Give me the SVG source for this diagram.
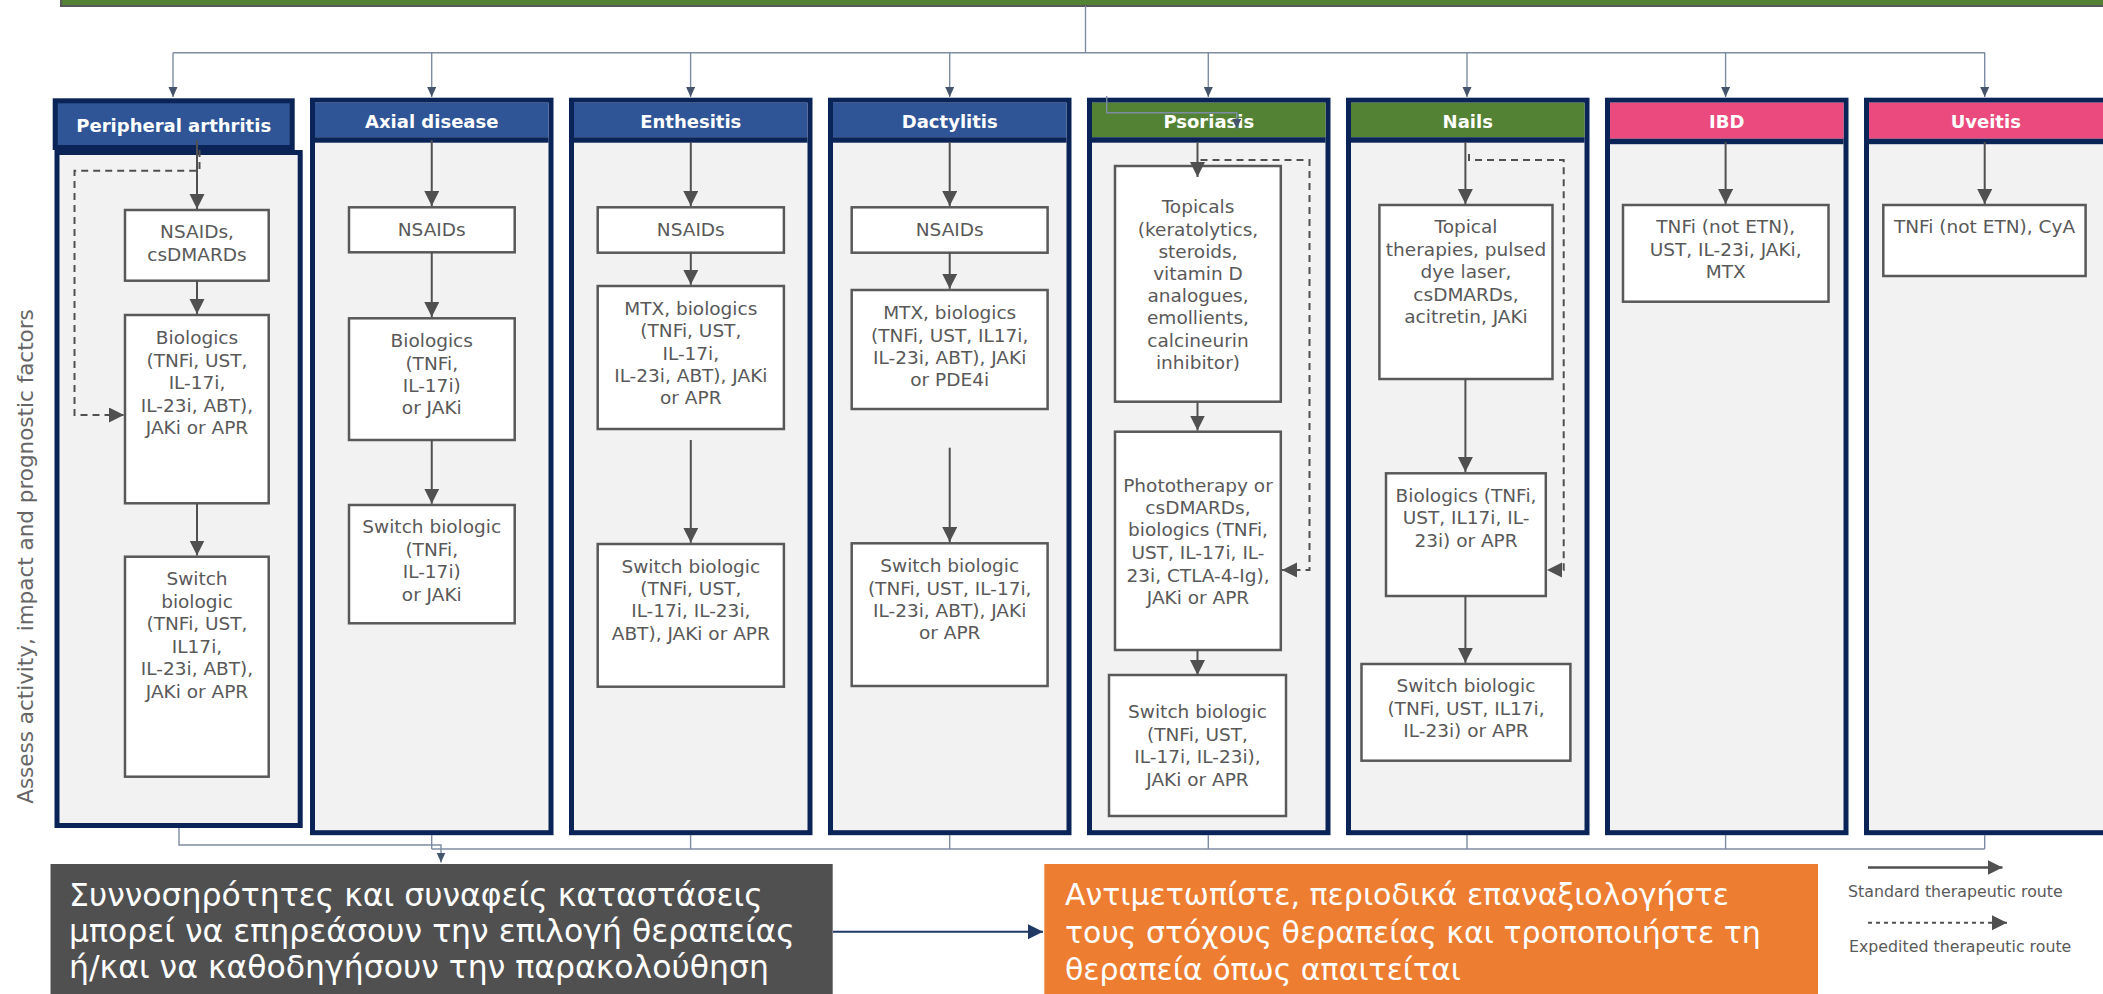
<svg xmlns="http://www.w3.org/2000/svg" width="2103" height="994" viewBox="0 0 2103 994">
<style>
.col{fill:#f2f2f2;stroke:#0a2458;stroke-width:5}
.hb{fill:#2f5597}.hg{fill:#548235}.hp{fill:#ea4a7d}
.band{fill:#0a2458}
.ht{font-family:"DejaVu Sans",Verdana,sans-serif;font-weight:bold;font-size:18px;fill:#ffffff;text-anchor:middle}
.box{fill:#ffffff;stroke:#595959;stroke-width:2.5}
.bt{font-family:"DejaVu Sans",Verdana,sans-serif;font-size:18.5px;fill:#595959;text-anchor:middle}
.arr{stroke:#505050;stroke-width:2;fill:none;marker-end:url(#ah)}
.dash{stroke:#505050;stroke-width:2;fill:none;stroke-dasharray:7 5;marker-end:url(#ah)}
.dist{stroke:#7d8ca3;stroke-width:1.4;fill:none}
.darr{stroke:#7d8ca3;stroke-width:1.4;fill:none;marker-end:url(#sm)}
.gr{font-family:"DejaVu Sans",Verdana,sans-serif;font-size:30px;fill:#ffffff}
.gr2{font-family:"DejaVu Sans",Verdana,sans-serif;font-size:31.5px;fill:#ffffff}
.lg{font-family:"DejaVu Sans",Verdana,sans-serif;font-size:15.8px;fill:#595959}
</style>
<defs>
<marker id="ah" markerUnits="userSpaceOnUse" markerWidth="16" markerHeight="16" refX="15" refY="7.5" orient="auto" viewBox="0 0 16 16"><path d="M0,0 L15,7.5 L0,15 z" fill="#505050"/></marker>
<marker id="sm" markerUnits="userSpaceOnUse" markerWidth="11" markerHeight="10" refX="10" refY="4.5" orient="auto" viewBox="0 0 11 10"><path d="M0,0 L10,4.5 L0,9 z" fill="#44546a"/></marker>
<marker id="nv" markerUnits="userSpaceOnUse" markerWidth="16" markerHeight="16" refX="15" refY="7.5" orient="auto" viewBox="0 0 16 16"><path d="M0,0 L15,7.5 L0,15 z" fill="#1f3864"/></marker>
</defs>

<g id="top-bar">
<rect x="61" y="-30" width="2100" height="36" fill="#548235" stroke="#595959" stroke-width="2"/>
</g>

<text transform="translate(33,556.5) rotate(-90)" text-anchor="middle" font-family="DejaVu Sans, Verdana, sans-serif" font-size="21.5" fill="#666666">Assess activity, impact and prognostic factors</text>

<g id="col-peripheral">
<rect x="57" y="152.5" width="243.2" height="673" class="col"/>
<rect x="55.2" y="100.8" width="237" height="46.7" fill="#2f5597" stroke="#0a2458" stroke-width="5"/>
<text x="173.7" y="131.7" class="ht">Peripheral arthritis</text>
<rect x="125" y="210" width="143.7" height="70.7" class="box"/>
<text class="bt"><tspan x="197" y="238">NSAIDs,</tspan><tspan x="197" y="261">csDMARDs</tspan></text>
<rect x="125" y="315" width="143.7" height="188.3" class="box"/>
<text class="bt"><tspan x="197" y="344">Biologics</tspan><tspan x="197" y="366.5">(TNFi, UST,</tspan><tspan x="197" y="389">IL-17i,</tspan><tspan x="197" y="411.5">IL-23i, ABT),</tspan><tspan x="197" y="434">JAKi or APR</tspan></text>
<rect x="125" y="556.7" width="143.7" height="220" class="box"/>
<text class="bt"><tspan x="197" y="585">Switch</tspan><tspan x="197" y="607.5">biologic</tspan><tspan x="197" y="630">(TNFi, UST,</tspan><tspan x="197" y="652.5">IL17i,</tspan><tspan x="197" y="675">IL-23i, ABT),</tspan><tspan x="197" y="697.5">JAKi or APR</tspan></text>
</g>

<g id="col-axial">
<rect x="312.5" y="100.2" width="238.5" height="732.5" class="col"/>
<rect x="315" y="102.7" width="233.5" height="34.5" class="hb"/>
<rect x="315" y="137.2" width="233.5" height="5.5" class="band"/>
<text x="431.75" y="128" class="ht">Axial disease</text>
<rect x="349" y="207.3" width="165.7" height="45" class="box"/>
<text x="431.75" y="236" class="bt">NSAIDs</text>
<rect x="349" y="318.3" width="165.7" height="121.7" class="box"/>
<text class="bt"><tspan x="431.75" y="347.3">Biologics</tspan><tspan x="431.75" y="369.5">(TNFi,</tspan><tspan x="431.75" y="392">IL-17i)</tspan><tspan x="431.75" y="414">or JAKi</tspan></text>
<rect x="349" y="505" width="165.7" height="118.3" class="box"/>
<text class="bt"><tspan x="431.75" y="532.7">Switch biologic</tspan><tspan x="431.75" y="555.5">(TNFi,</tspan><tspan x="431.75" y="578">IL-17i)</tspan><tspan x="431.75" y="600.5">or JAKi</tspan></text>
</g>

<g id="col-enthesitis">
<rect x="571.5" y="100.2" width="238.5" height="732.5" class="col"/>
<rect x="574" y="102.7" width="233.5" height="34.5" class="hb"/>
<rect x="574" y="137.2" width="233.5" height="5.5" class="band"/>
<text x="690.75" y="128" class="ht">Enthesitis</text>
<rect x="597.7" y="207.3" width="186.2" height="45.4" class="box"/>
<text x="690.8" y="236" class="bt">NSAIDs</text>
<rect x="597.7" y="286" width="186.2" height="143" class="box"/>
<text class="bt"><tspan x="690.8" y="315">MTX, biologics</tspan><tspan x="690.8" y="337">(TNFi, UST,</tspan><tspan x="690.8" y="359.5">IL-17i,</tspan><tspan x="690.8" y="381.7">IL-23i, ABT), JAKi</tspan><tspan x="690.8" y="404">or APR</tspan></text>
<rect x="597.7" y="544" width="186.2" height="142.7" class="box"/>
<text class="bt"><tspan x="690.8" y="572.7">Switch biologic</tspan><tspan x="690.8" y="595">(TNFi, UST,</tspan><tspan x="690.8" y="617.3">IL-17i, IL-23i,</tspan><tspan x="690.8" y="639.5">ABT), JAKi or APR</tspan></text>
</g>

<g id="col-dactylitis">
<rect x="830.5" y="100.2" width="238.5" height="732.5" class="col"/>
<rect x="833" y="102.7" width="233.5" height="34.5" class="hb"/>
<rect x="833" y="137.2" width="233.5" height="5.5" class="band"/>
<text x="949.75" y="128" class="ht">Dactylitis</text>
<rect x="851.7" y="207.3" width="195.9" height="45.4" class="box"/>
<text x="949.7" y="236" class="bt">NSAIDs</text>
<rect x="851.7" y="290" width="195.9" height="119" class="box"/>
<text class="bt"><tspan x="949.7" y="319.3">MTX, biologics</tspan><tspan x="949.7" y="341.7">(TNFi, UST, IL17i,</tspan><tspan x="949.7" y="363.5">IL-23i, ABT), JAKi</tspan><tspan x="949.7" y="386">or PDE4i</tspan></text>
<rect x="851.7" y="543.3" width="195.9" height="142.7" class="box"/>
<text class="bt"><tspan x="949.7" y="572.3">Switch biologic</tspan><tspan x="949.7" y="594.5">(TNFi, UST, IL-17i,</tspan><tspan x="949.7" y="616.7">IL-23i, ABT), JAKi</tspan><tspan x="949.7" y="639">or APR</tspan></text>
</g>

<g id="col-psoriasis">
<rect x="1089.5" y="100.2" width="238.5" height="732.5" class="col"/>
<rect x="1092" y="102.7" width="233.5" height="34.5" class="hg"/>
<rect x="1092" y="137.2" width="233.5" height="5.5" class="band"/>
<text x="1208.75" y="128" class="ht">Psoriasis</text>
<rect x="1115" y="166" width="165.8" height="235.7" class="box"/>
<text class="bt"><tspan x="1198" y="213.3">Topicals</tspan><tspan x="1198" y="235.5">(keratolytics,</tspan><tspan x="1198" y="257.5">steroids,</tspan><tspan x="1198" y="279.5">vitamin D</tspan><tspan x="1198" y="301.7">analogues,</tspan><tspan x="1198" y="324">emollients,</tspan><tspan x="1198" y="346.5">calcineurin</tspan><tspan x="1198" y="369">inhibitor)</tspan></text>
<rect x="1115" y="431.7" width="165.8" height="218.3" class="box"/>
<text class="bt"><tspan x="1198" y="491.7">Phototherapy or</tspan><tspan x="1198" y="513.5">csDMARDs,</tspan><tspan x="1198" y="536">biologics (TNFi,</tspan><tspan x="1198" y="559">UST, IL-17i, IL-</tspan><tspan x="1198" y="581.7">23i, CTLA-4-Ig),</tspan><tspan x="1198" y="604">JAKi or APR</tspan></text>
<rect x="1109" y="675" width="177" height="141" class="box"/>
<text class="bt"><tspan x="1197.5" y="718.3">Switch biologic</tspan><tspan x="1197.5" y="740.7">(TNFi, UST,</tspan><tspan x="1197.5" y="763.3">IL-17i, IL-23i),</tspan><tspan x="1197.5" y="785.7">JAKi or APR</tspan></text>
</g>

<g id="col-nails">
<rect x="1348.5" y="100.2" width="238.5" height="732.5" class="col"/>
<rect x="1351" y="102.7" width="233.5" height="34.5" class="hg"/>
<rect x="1351" y="137.2" width="233.5" height="5.5" class="band"/>
<text x="1467.75" y="128" class="ht">Nails</text>
<rect x="1379.4" y="205" width="173.1" height="174" class="box"/>
<text class="bt"><tspan x="1466" y="233.3">Topical</tspan><tspan x="1466" y="256">therapies, pulsed</tspan><tspan x="1466" y="278.3">dye laser,</tspan><tspan x="1466" y="300.7">csDMARDs,</tspan><tspan x="1466" y="322.7">acitretin, JAKi</tspan></text>
<rect x="1386" y="473.3" width="159.8" height="122.7" class="box"/>
<text class="bt"><tspan x="1466" y="501.7">Biologics (TNFi,</tspan><tspan x="1466" y="524">UST, IL17i, IL-</tspan><tspan x="1466" y="546.7">23i) or APR</tspan></text>
<rect x="1361.5" y="664" width="208.9" height="96.7" class="box"/>
<text class="bt"><tspan x="1466" y="691.7">Switch biologic</tspan><tspan x="1466" y="714.5">(TNFi, UST, IL17i,</tspan><tspan x="1466" y="736.7">IL-23i) or APR</tspan></text>
</g>

<g id="col-ibd">
<rect x="1607.5" y="100.2" width="238.5" height="732.5" class="col"/>
<rect x="1610" y="102.7" width="233.5" height="36" class="hp"/>
<rect x="1610" y="138.7" width="233.5" height="5.5" class="band"/>
<text x="1726.75" y="128" class="ht">IBD</text>
<rect x="1623" y="205" width="205.5" height="96.7" class="box"/>
<text class="bt"><tspan x="1725.7" y="233.3">TNFi (not ETN),</tspan><tspan x="1725.7" y="256">UST, IL-23i, JAKi,</tspan><tspan x="1725.7" y="278.3">MTX</tspan></text>
</g>

<g id="col-uveitis">
<rect x="1866.5" y="100.2" width="260" height="732.5" class="col"/>
<rect x="1869" y="102.7" width="260" height="36" class="hp"/>
<rect x="1869" y="138.7" width="260" height="5.5" class="band"/>
<text x="1985.75" y="128" class="ht">Uveitis</text>
<rect x="1883.3" y="205" width="202.3" height="71" class="box"/>
<text x="1984.5" y="233.3" class="bt">TNFi (not ETN), CyA</text>
</g>

<g id="bottom-left">
<rect x="50.5" y="864" width="782.2" height="140" fill="#505050"/>
<text class="gr2"><tspan x="69" y="906">Συννοσηρότητες και συναφείς καταστάσεις</tspan><tspan x="69" y="942">μπορεί να επηρεάσουν την επιλογή θεραπείας</tspan><tspan x="69" y="978">ή/και να καθοδηγήσουν την παρακολούθηση</tspan></text>
</g>

<g id="bottom-right">
<rect x="1044.3" y="864" width="773.7" height="140" fill="#ed7d31"/>
<text class="gr"><tspan x="1065" y="905">Αντιμετωπίστε, περιοδικά επαναξιολογήστε</tspan><tspan x="1065" y="943">τους στόχους θεραπείας και τροποποιήστε τη</tspan><tspan x="1065" y="980">θεραπεία όπως απαιτείται</tspan></text>
</g>

<g id="legend">
<path d="M1868,867.5 H2002.5" stroke="#505050" stroke-width="2.5" fill="none" marker-end="url(#ah)"/>
<text x="1848" y="896.7" class="lg">Standard therapeutic route</text>
<path d="M1868,922.7 H2007" stroke="#505050" stroke-width="2" fill="none" stroke-dasharray="4 4" marker-end="url(#ah)"/>
<text x="1849" y="951.7" class="lg">Expedited therapeutic route</text>
</g>

<g id="connectors">
<path class="dist" d="M1085.5,6 V52.7 M173,52.7 H1985"/>
<path class="darr" d="M173,52.7 V97"/>
<path class="darr" d="M431.7,52.7 V97"/>
<path class="darr" d="M690.6,52.7 V97"/>
<path class="darr" d="M949.7,52.7 V97"/>
<path class="darr" d="M1208.3,52.7 V97"/>
<path class="darr" d="M1467,52.7 V97"/>
<path class="darr" d="M1725.6,52.7 V97"/>
<path class="darr" d="M1984.7,52.7 V97"/>
<path class="darr" d="M1106.7,96 V112.7 H1236.7 V129"/>
<path class="dist" d="M431.7,835 V849 M690.6,835 V849 M949.7,835 V849 M1208.3,835 V849 M1467,835 V849 M1725.6,835 V849 M1984.7,835 V849 M431.7,849 H1984.7"/>
<path class="darr" d="M179,828 V845 H441 V862.5"/>
<path d="M833,931.7 H1043" stroke="#1f3864" stroke-width="2" fill="none" marker-end="url(#nv)"/>
<path class="arr" d="M197,140 V209"/>
<path class="arr" d="M197,280.7 V314"/>
<path class="arr" d="M197,503.3 V555.5"/>
<path class="dash" d="M199.5,150 V170.7 H74.5 V415 H124"/>
<path class="arr" d="M431.75,140 V206"/>
<path class="arr" d="M431.75,252.3 V317"/>
<path class="arr" d="M431.75,440 V503.8"/>
<path class="arr" d="M690.8,142 V206"/>
<path class="arr" d="M690.8,252.7 V284.8"/>
<path class="arr" d="M690.8,440 V542.8"/>
<path class="arr" d="M949.7,142 V206"/>
<path class="arr" d="M949.7,252.7 V288.8"/>
<path class="arr" d="M949.7,447.7 V542"/>
<path class="arr" d="M1197.5,142 V177"/>
<path class="arr" d="M1197.5,401.7 V430.5"/>
<path class="arr" d="M1197.5,650 V675"/>
<path class="dash" d="M1200.5,160 H1309.5 V570 H1282"/>
<path class="arr" d="M1465.4,142 V204"/>
<path class="arr" d="M1465.4,379 V472"/>
<path class="arr" d="M1465.4,596 V662.8"/>
<path class="dash" d="M1469,154 V160 H1563.7 V570 H1547"/>
<path class="arr" d="M1725.6,142 V204"/>
<path class="arr" d="M1984.7,142 V204"/>
</g>
</svg>
